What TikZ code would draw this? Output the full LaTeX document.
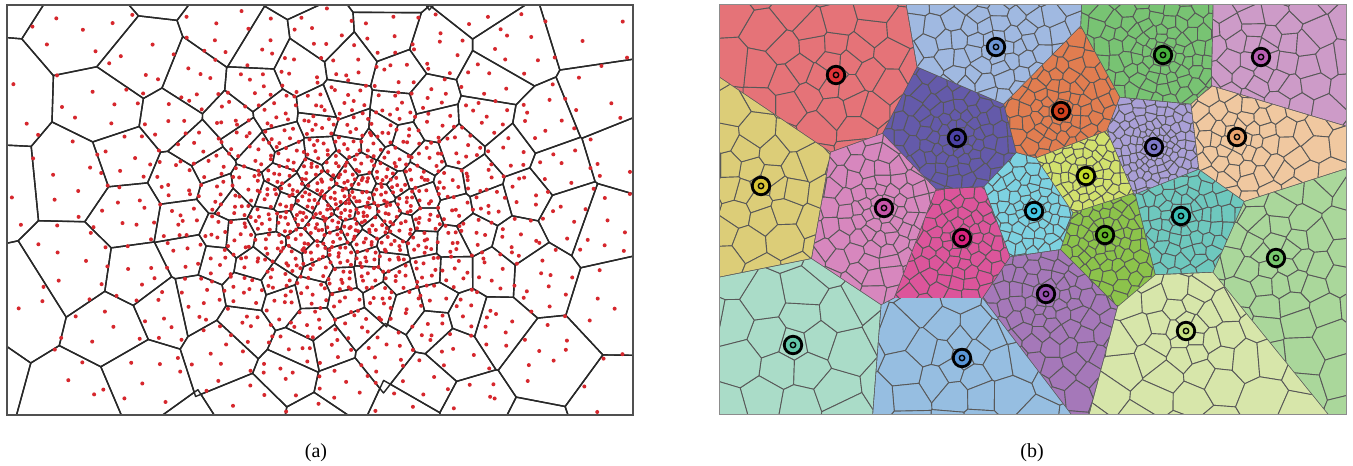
\documentclass[tikz,border=0pt]{standalone}
\usepackage{fontspec}
\setmainfont{Liberation Serif}
\makeatletter
\newcommand\gsetcs[2]{\expandafter\xdef\csname #1\endcsname{#2}}
\newcommand\usecs[1]{\csname #1\endcsname}
\newcount\gn \newcount\gk \newcount\vvj \newcount\vvq \newcount\mtmp \newcount\mtmpb
\newif\ifvvdraw \newif\ifvvempty \newif\ifvvfirst
\def\gsx{1}
% ---- ring system generator (values stored as integers in tenths of a pixel) ----
% #1 name #2 cx #3 cy #4 a #5 b #6 c #7 Rmax #8 jitter #9 min count
\newcommand\genrings[9]{%
  \pgfmathtruncatemacro\gcx{round(10*#2)}\pgfmathtruncatemacro\gcy{round(10*#3)}%
  \pgfmathtruncatemacro\gszero{round(10*#4)}%
  \gsetcs{#1-0-0x}{\gcx}\gsetcs{#1-0-0y}{\gcy}%
  \gsetcs{#1M0}{1}\gsetcs{#1F0}{0}\gsetcs{#1R0}{0}\gsetcs{#1S0}{\gszero}%
  \def\grr{0}\gn=0
  \loop
    \pgfmathsetmacro\gss{#4+#5*\grr+#6*\grr*\grr}%
    \ifnum\gn=0 \let\grr\gss\else\pgfmathsetmacro\grr{\grr+0.88*\gss}\fi
    \advance\gn by 1
    \pgfmathsetmacro\gsr{#4+#5*\grr+#6*\grr*\grr}%
    \pgfmathtruncatemacro\gmm{max(#9,round(6.28318*\grr/\gsr))}%
    \pgfmathsetmacro\gff{360*rnd}%
    \pgfmathtruncatemacro\gffi{round(10*\gff)}%
    \pgfmathtruncatemacro\grri{round(10*\grr)}%
    \pgfmathtruncatemacro\gsri{round(10*\gsr)}%
    \gsetcs{#1M\the\gn}{\gmm}\gsetcs{#1F\the\gn}{\gffi}%
    \gsetcs{#1R\the\gn}{\grri}\gsetcs{#1S\the\gn}{\gsri}%
    \gk=0
    \genpt{#1}{#2}{#3}{#8}%
    \pgfmathtruncatemacro\gcont{\grr<#7}%
  \ifnum\gcont=1 \repeat
  \gsetcs{#1N}{\the\gn}}
\def\genpt#1#2#3#4{%
  \ifnum\gk<\gmm\relax
    \pgfmathsetmacro\gang{\gff+(\the\gk+#4*(2*rnd-1))/\gmm*360}%
    \pgfmathsetmacro\grad{\grr+#4*\gsr*(2*rnd-1)}%
    \pgfmathtruncatemacro\gx{round(10*(#2+\gsx*\grad*cos(\gang)))}%
    \pgfmathtruncatemacro\gy{round(10*(#3+\grad*sin(\gang)))}%
    \gsetcs{#1-\the\gn-\the\gk x}{\gx}\gsetcs{#1-\the\gn-\the\gk y}{\gy}%
    \advance\gk by 1
    \expandafter\genpt
  \else
    \expandafter\@gobblefour
  \fi{#1}{#2}{#3}{#4}}
% ---- integer modulo ----
\def\setmod#1#2#3{%
  \mtmp=\numexpr #2+100*(#3)\relax
  \mtmpb=\mtmp \divide\mtmpb by \numexpr#3\relax
  \edef#1{\number\numexpr\mtmp-\mtmpb*(#3)\relax}}
% ---- convex polygon clipping (Sutherland-Hodgman), keep f<=0 ----
\def\hpclip#1#2#3#4{%
  \ifvvempty\else
    \edef\hsx{#1}\edef\hsy{#2}\edef\hdx{#3}\edef\hdy{#4}%
    \let\newpoly\empty
    \let\prevx\plx \let\prevy\ply
    \edef\prevf{\number\numexpr(2*\prevx-\hsx)*\hdx+(2*\prevy-\hsy)*\hdy\relax}%
    \let\vv\hpstep
    \cellpoly
    \ifx\newpoly\empty \vvemptytrue\else \let\cellpoly\newpoly \let\plx\nlx \let\ply\nly \fi
  \fi}
\def\hpstep#1#2{%
  \edef\curf{\number\numexpr(2*#1-\hsx)*\hdx+(2*#2-\hsy)*\hdy\relax}%
  \ifnum\curf>0
    \ifnum\prevf>0 \else\addinter{#1}{#2}\fi
  \else
    \ifnum\prevf>0 \addinter{#1}{#2}\fi
    \addpt{#1}{#2}%
  \fi
  \def\prevx{#1}\def\prevy{#2}\let\prevf\curf}
\def\addinter#1#2{%
  \edef\ix{\number\numexpr\prevx+(#1-\prevx)*\prevf/(\prevf-\curf)\relax}%
  \edef\iy{\number\numexpr\prevy+(#2-\prevy)*\prevf/(\prevf-\curf)\relax}%
  \addpt\ix\iy}
\def\addpt#1#2{\edef\nlx{#1}\edef\nly{#2}%
  \edef\newpoly{\unexpanded\expandafter{\newpoly}\noexpand\vv{\nlx}{\nly}}}
% ---- neighbour clips ----
\def\nbclip#1#2#3{%
  \edef\ox{\usecs{#1-#2-#3x}}\edef\oy{\usecs{#1-#2-#3y}}%
  \hpclip{\number\numexpr\vcx+\ox\relax}{\number\numexpr\vcy+\oy\relax}%
         {\number\numexpr\ox-\vcx\relax}{\number\numexpr\oy-\vcy\relax}}
\def\ringallnb#1#2{%
  \vvq=0
  \loop
    \nbclip{#1}{#2}{\the\vvq}%
    \advance\vvq by 1
  \ifnum\vvq<\vvmq\relax\repeat}
\def\ringnb#1#2#3#4{% sys n k n'
  \edef\vvmq{\usecs{#1M#4}}%
  \ifnum\vvmq=1
    \nbclip{#1}{#4}{0}%
  \else\ifnum#2=0
    \ringallnb{#1}{#4}%
  \else
    \edef\vvFa{\usecs{#1F#2}}\edef\vvMa{\usecs{#1M#2}}\edef\vvFb{\usecs{#1F#4}}%
    \edef\vvkc{\number\numexpr(\vvFa*\vvMa+#3*3600-\vvFb*\vvMa)*\vvmq/(3600*\vvMa)\relax}%
    \setmod\tk{\vvkc-2}{\vvmq}\nbclip{#1}{#4}{\tk}%
    \setmod\tk{\vvkc-1}{\vvmq}\nbclip{#1}{#4}{\tk}%
    \setmod\tk{\vvkc}{\vvmq}\nbclip{#1}{#4}{\tk}%
    \setmod\tk{\vvkc+1}{\vvmq}\nbclip{#1}{#4}{\tk}%
    \setmod\tk{\vvkc+2}{\vvmq}\nbclip{#1}{#4}{\tk}%
  \fi\fi}
\def\cellclips#1#2#3{%
  \edef\vvm{\usecs{#1M#2}}%
  \ifnum\vvm>1
    \setmod\tka{#3-2}{\vvm}\nbclip{#1}{#2}{\tka}%
    \setmod\tka{#3-1}{\vvm}\nbclip{#1}{#2}{\tka}%
    \setmod\tka{#3+1}{\vvm}\nbclip{#1}{#2}{\tka}%
    \setmod\tka{#3+2}{\vvm}\nbclip{#1}{#2}{\tka}%
  \fi
  \ifnum#2>0
    \edef\vvnp{\number\numexpr#2-1\relax}\ringnb{#1}{#2}{#3}{\vvnp}%
  \fi
  \edef\vvN{\usecs{#1N}}%
  \ifnum#2<\vvN\relax
    \edef\vvnq{\number\numexpr#2+1\relax}\ringnb{#1}{#2}{#3}{\vvnq}%
  \fi}
\def\pathvv#1#2{\ifvvfirst\edef\pathstr{(#1,#2)}\vvfirstfalse\else\edef\pathstr{\pathstr--(#1,#2)}\fi}
\def\drawcell#1#2#3#4{% sys n k style  (\vcx,\vcy,\vss set by the check)
  \vvemptyfalse
  \edef\hx{\number\numexpr\vss*\bxm/10\relax}\edef\hy{\number\numexpr\vss*22/10\relax}%
  \edef\xl{\number\numexpr\vcx-\hx\relax}\edef\xr{\number\numexpr\vcx+\hx\relax}%
  \edef\yb{\number\numexpr\vcy-\hy\relax}\edef\yt{\number\numexpr\vcy+\hy\relax}%
  \edef\cellpoly{\noexpand\vv{\xl}{\yb}\noexpand\vv{\xr}{\yb}\noexpand\vv{\xr}{\yt}\noexpand\vv{\xl}{\yt}}%
  \let\plx\xl \let\ply\yt
  \cellclips{#1}{#2}{#3}%
  \ifvvempty\else
    \vvfirsttrue \let\pathstr\empty \let\vv\pathvv
    \cellpoly
    \edef\tmpcmd{\noexpand\path[#4] \pathstr -- cycle;}\tmpcmd
  \fi}
% ---- checks ----
\def\checkA#1#2#3{%
  \edef\vcx{\usecs{#1-#2-#3x}}\edef\vcy{\usecs{#1-#2-#3y}}\edef\vss{\usecs{#1S#2}}%
  \vvdrawtrue
  \ifnum\vcx<\numexpr\pxa-\vss*14/10\relax \vvdrawfalse\fi
  \ifnum\vcx>\numexpr\pxb+\vss*14/10\relax \vvdrawfalse\fi
  \ifnum\vcy<\numexpr\pya-\vss*11/10\relax \vvdrawfalse\fi
  \ifnum\vcy>\numexpr\pyb+\vss*11/10\relax \vvdrawfalse\fi}
\def\regcheck{%
  \vvj=0
  \loop
    \advance\vvj by 1
    \ifnum\vvj=\vvreg\relax\else
      \ifnum\numexpr(2*\vcx-\usecs{PSX-\vvreg-\the\vvj})*\usecs{PDX-\vvreg-\the\vvj}+(2*\vcy-\usecs{PSY-\vvreg-\the\vvj})*\usecs{PDY-\vvreg-\the\vvj}\relax>\numexpr16*\vss*\usecs{PL-\vvreg-\the\vvj}/10\relax
        \vvdrawfalse
      \fi
    \fi
  \ifnum\vvj<20 \repeat}
\def\checkB#1#2#3{%
  \edef\vcx{\usecs{#1-#2-#3x}}\edef\vcy{\usecs{#1-#2-#3y}}\edef\vss{\usecs{#1S#2}}\edef\vrr{\usecs{#1R#2}}%
  \vvdrawtrue
  \ifnum\vcx<\numexpr\pxa-\vss\relax \vvdrawfalse\fi
  \ifnum\vcx>\numexpr\pxb+\vss\relax \vvdrawfalse\fi
  \ifnum\vcy<\numexpr\pya-\vss\relax \vvdrawfalse\fi
  \ifnum\vcy>\numexpr\pyb+\vss\relax \vvdrawfalse\fi
  \ifvvdraw
    \edef\vhd{\usecs{HD\vvreg}}%
    \ifnum\numexpr\vrr+\vss*3/10\relax<\vhd\relax\else\regcheck\fi
  \fi}
\newcommand\drawsys[3]{% sys style check
  \edef\vvNN{\usecs{#1N}}%
  \foreach \n in {0,...,\vvNN}{%
    \edef\vvmm{\usecs{#1M\n}}%
    \edef\vvmmm{\number\numexpr\vvmm-1\relax}%
    \foreach \k in {0,...,\vvmmm}{%
      #3{#1}{\n}{\k}%
      \ifvvdraw\drawcell{#1}{\n}{\k}{#2}\fi}}}
\newcommand\drawdots[1]{%
  \edef\vvNN{\usecs{#1N}}%
  \foreach \n in {0,...,\vvNN}{%
    \edef\vvmm{\usecs{#1M\n}}%
    \edef\vvmmm{\number\numexpr\vvmm-1\relax}%
    \foreach \k in {0,...,\vvmmm}{%
      \edef\vcx{\usecs{#1-\n-\k x}}\edef\vcy{\usecs{#1-\n-\k y}}%
      \vvdrawtrue
      \ifnum\vcx<\numexpr\pxa+30\relax \vvdrawfalse\fi
      \ifnum\vcx>\numexpr\pxb-30\relax \vvdrawfalse\fi
      \ifnum\vcy<\numexpr\pya+30\relax \vvdrawfalse\fi
      \ifnum\vcy>\numexpr\pyb-30\relax \vvdrawfalse\fi
      \ifvvdraw\fill[dotred] (\vcx,\vcy) circle (20);\fi}}}
% half-plane TikZ clip (pixel units) for region borders, with gap #5
\newcommand\hclip[5]{%
  \edef\hxa{#1}\edef\hya{#2}\edef\hxb{#3}\edef\hyb{#4}%
  \pgfmathsetmacro\hang{atan2((\hyb)-(\hya),(\hxb)-(\hxa))}%
  \pgfmathsetmacro\hdd{50*veclen(((\hxb)-(\hxa))/100,((\hyb)-(\hya))/100)-#5}%
  \clip[shift={(\hxa,\hya)},rotate=\hang] (-3000,-3000) rectangle (\hdd,3000);}
\newcommand\regionclip[2]{%
  \vvj=0
  \loop
    \advance\vvj by 1
    \ifnum\vvj=#1\relax\else
      \hclip{\usecs{SX#1}}{\usecs{SY#1}}{\usecs{SX\the\vvj}}{\usecs{SY\the\vvj}}{#2}%
    \fi
  \ifnum\vvj<20 \repeat}
% ---------- data ----------
\pgfmathsetseed{4711}
\def\gsx{1.25}
\genrings{A}{345}{256}{16}{0.05}{0.0009}{345}{0.25}{5}
\genrings{D}{345}{256}{5.5}{0.017}{0.0003}{345}{0.38}{5}
\def\gsx{1}
\newcommand\seed[3]{\gsetcs{SX#1}{#2}\gsetcs{SY#1}{#3}}
\seed{1}{836}{391}\seed{2}{996}{419}\seed{3}{1163}{411}\seed{4}{1261}{409}
\seed{5}{1061}{355}\seed{6}{957}{328}\seed{7}{1154}{319}\seed{8}{1237}{329}
\seed{9}{761}{280}\seed{10}{1086}{290}\seed{11}{884}{258}\seed{12}{1034}{255}
\seed{13}{1181}{250}\seed{14}{962}{228}\seed{15}{1105}{231}\seed{16}{1276}{208}
\seed{17}{1046}{172}\seed{18}{1186}{135}\seed{19}{793}{121}\seed{20}{962}{108}
\genrings{B1}{836}{391}{15}{0.3}{0}{170}{0.22}{5}
\genrings{B2}{996}{419}{11}{0.17}{0}{140}{0.22}{5}
\genrings{B3}{1163}{411}{8}{0.14}{0}{140}{0.22}{5}
\genrings{B4}{1261}{409}{13}{0.24}{0}{140}{0.22}{5}
\genrings{B5}{1061}{355}{8}{0.15}{0}{110}{0.22}{5}
\genrings{B6}{957}{328}{7}{0.18}{0}{120}{0.22}{5}
\genrings{B7}{1154}{319}{5}{0.14}{0}{100}{0.22}{5}
\genrings{B8}{1237}{329}{10}{0.18}{0}{150}{0.22}{5}
\genrings{B9}{761}{280}{17}{0.26}{0}{140}{0.22}{5}
\genrings{B10}{1086}{290}{7}{0.13}{0}{100}{0.22}{5}
\genrings{B11}{884}{258}{9}{0.16}{0}{150}{0.22}{5}
\genrings{B12}{1034}{255}{7}{0.15}{0}{100}{0.22}{5}
\genrings{B13}{1181}{250}{8}{0.15}{0}{100}{0.22}{5}
\genrings{B14}{962}{228}{8}{0.15}{0}{110}{0.22}{5}
\genrings{B15}{1105}{231}{7}{0.15}{0}{100}{0.22}{5}
\genrings{B16}{1276}{208}{14}{0.26}{0}{170}{0.22}{5}
\genrings{B17}{1046}{172}{9}{0.16}{0}{120}{0.22}{5}
\genrings{B18}{1186}{135}{12}{0.33}{0}{200}{0.22}{5}
\genrings{B19}{793}{121}{28}{0.25}{0}{150}{0.22}{5}
\genrings{B20}{962}{108}{18}{0.28}{0}{160}{0.22}{5}
\foreach \i in {1,...,20}{%
  \gdef\tmpmin{100000}%
  \foreach \j in {1,...,20}{%
    \ifnum\i=\j\else
      \edef\txa{\usecs{SX\i}}\edef\tya{\usecs{SY\i}}\edef\txb{\usecs{SX\j}}\edef\tyb{\usecs{SY\j}}%
      \pgfmathtruncatemacro\tdd{round(1000*veclen((\txb-\txa)/100,(\tyb-\tya)/100))}%
      \gsetcs{PSX-\i-\j}{\number\numexpr10*(\txa+\txb)\relax}%
      \gsetcs{PSY-\i-\j}{\number\numexpr10*(\tya+\tyb)\relax}%
      \gsetcs{PDX-\i-\j}{\number\numexpr10*(\txb-\txa)\relax}%
      \gsetcs{PDY-\i-\j}{\number\numexpr10*(\tyb-\tya)\relax}%
      \gsetcs{PL-\i-\j}{\tdd}%
      \ifnum\tdd<\tmpmin\relax\global\let\tmpmin\tdd\fi
    \fi}%
  \gsetcs{HD\i}{\number\numexpr\tmpmin/2\relax}}
\makeatother
% ---------- colours ----------
\definecolor{dotred}{RGB}{214,39,45}
\definecolor{aline}{RGB}{40,40,40}
\definecolor{aframe}{RGB}{80,80,80}
\definecolor{bline}{RGB}{88,88,88}
\definecolor{bframe}{RGB}{140,140,140}
\definecolor{rc1}{RGB}{229,115,120}\definecolor{mk1}{RGB}{225,50,55}
\definecolor{rc2}{RGB}{160,185,225}\definecolor{mk2}{RGB}{110,150,215}
\definecolor{rc3}{RGB}{120,195,115}\definecolor{mk3}{RGB}{70,175,60}
\definecolor{rc4}{RGB}{205,155,200}\definecolor{mk4}{RGB}{185,95,180}
\definecolor{rc5}{RGB}{225,125,80}\definecolor{mk5}{RGB}{210,65,30}
\definecolor{rc6}{RGB}{100,90,170}\definecolor{mk6}{RGB}{75,65,165}
\definecolor{rc7}{RGB}{170,160,215}\definecolor{mk7}{RGB}{125,120,200}
\definecolor{rc8}{RGB}{240,200,160}\definecolor{mk8}{RGB}{235,165,110}
\definecolor{rc9}{RGB}{220,205,120}\definecolor{mk9}{RGB}{215,195,55}
\definecolor{rc10}{RGB}{210,225,110}\definecolor{mk10}{RGB}{195,220,40}
\definecolor{rc11}{RGB}{215,135,190}\definecolor{mk11}{RGB}{200,85,170}
\definecolor{rc12}{RGB}{125,210,225}\definecolor{mk12}{RGB}{70,200,230}
\definecolor{rc13}{RGB}{110,200,190}\definecolor{mk13}{RGB}{60,190,180}
\definecolor{rc14}{RGB}{220,85,155}\definecolor{mk14}{RGB}{215,35,125}
\definecolor{rc15}{RGB}{140,195,75}\definecolor{mk15}{RGB}{100,180,40}
\definecolor{rc16}{RGB}{170,215,155}\definecolor{mk16}{RGB}{120,200,110}
\definecolor{rc17}{RGB}{165,120,185}\definecolor{mk17}{RGB}{150,80,175}
\definecolor{rc18}{RGB}{215,230,170}\definecolor{mk18}{RGB}{200,225,130}
\definecolor{rc19}{RGB}{170,220,200}\definecolor{mk19}{RGB}{100,200,170}
\definecolor{rc20}{RGB}{150,190,225}\definecolor{mk20}{RGB}{90,150,215}
\colorlet{curc}{white}
\tikzset{
  cellA/.style={draw=aline,line width=1.4pt,line join=round},
  cellB/.style={fill=curc,draw=bline,line width=0.9pt,line join=round},
  mko/.style={circle,draw=black,line width=2.8pt,minimum size=17.5pt,inner sep=0pt},
  mki/.style={circle,draw=black,line width=1.4pt,minimum size=5.4pt,inner sep=0pt},
  lbl/.style={font=\fontsize{20}{24}\selectfont,inner sep=0pt}
}
\begin{document}
\begin{tikzpicture}[x=1pt,y=1pt]
\useasboundingbox (0,0) rectangle (1353,466);
\fill[white] (0,0) rectangle (1353,466);
% ---- panel (a) ----
\def\pxa{70}\def\pya{510}\def\pxb{6330}\def\pyb{4610}\def\bxm{28}
\begin{scope}
  \clip (7,51) rectangle (633,461);
  \begin{scope}[x=0.1pt,y=0.1pt]
    \drawsys{A}{cellA}{\checkA}
    \drawdots{D}
  \end{scope}
\end{scope}
\draw[aframe,line width=1.3pt] (7,51) rectangle (633,461);
% ---- panel (b) ----
\def\pxa{7190}\def\pya{510}\def\pxb{13460}\def\pyb{4610}\def\bxm{22}
\begin{scope}
  \clip (719,51) rectangle (1346,461);
  \fill[bline] (719,51) rectangle (1346,461);
  \foreach \i in {1,...,20}{%
    \edef\vvreg{\i}%
    \colorlet{curc}{rc\i}%
    \begin{scope}
      \regionclip{\i}{0.45}%
      \begin{scope}[x=0.1pt,y=0.1pt]
        \drawsys{B\i}{cellB}{\checkB}%
      \end{scope}
    \end{scope}}
\end{scope}
\draw[bframe,line width=1pt] (719,51) rectangle (1346,461);
\foreach \i in {1,...,20}{%
  \edef\mx{\usecs{SX\i}}\edef\my{\usecs{SY\i}}%
  \colorlet{curm}{mk\i}%
  \node[mko,fill=curm] (m\i) at (\mx,\my) {};
  \node[mki,fill=curm] (n\i) at (m\i.center) {};
}
\node[lbl] (la) at (316,13) {(a)};
\node[lbl] (lb) at (1032,13) {(b)};
\end{tikzpicture}
\end{document}
